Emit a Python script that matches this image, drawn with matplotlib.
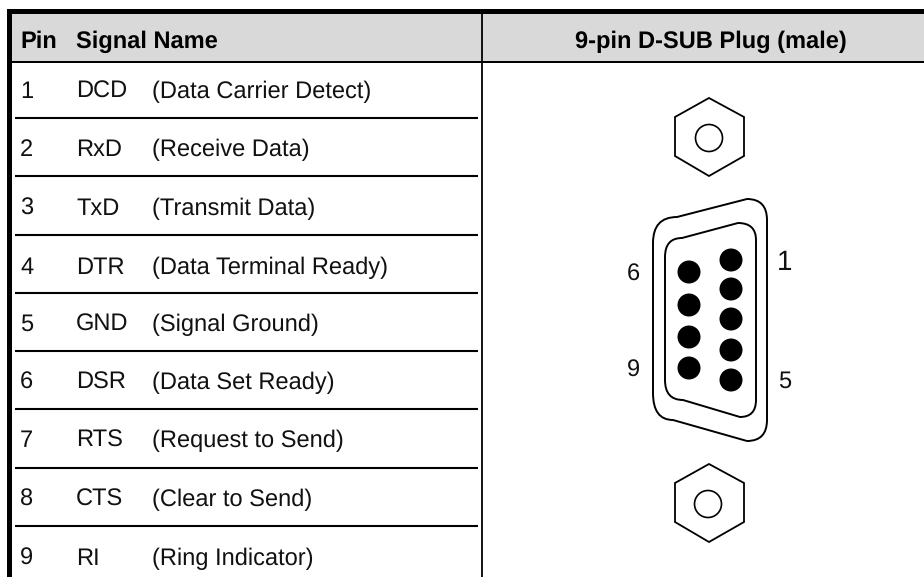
#import package
import matplotlib
matplotlib.use("Agg")
import matplotlib.pyplot as plt
from matplotlib.patches import Circle, PathPatch, Polygon, Rectangle
from matplotlib.path import Path

plt.rcParams['font.family'] = ['Liberation Sans', 'DejaVu Sans']
plt.rcParams['text.hinting'] = 'no_hinting'

#table contents
pins = ["1", "2", "3", "4", "5", "6", "7", "8", "9"]
signals = ["DCD", "RxD", "TxD", "DTR", "GND", "DSR", "RTS", "CTS", "RI"]
names = ["(Data Carrier Detect)", "(Receive Data)", "(Transmit Data)", "(Data Terminal Ready)",
         "(Signal Ground)", "(Data Set Ready)", "(Request to Send)", "(Clear to Send)", "(Ring Indicator)"]
row_baseline_y = [98, 156, 215, 274, 331, 389, 447, 506, 565]
row_line_y = [118, 176, 235, 293, 351, 409, 468, 525.5]

#connector drawing in pixels
left_pins_y = [272, 305, 337, 368]
right_pins_y = [260, 289, 319, 350, 380]
left_pin_x = 689
right_pin_x = 731
nut_centers = [(709, 137), (709, 503)]
bore_centers = [(709, 138), (708, 504)]


def shell(x0, x1, tl, tr, bl, br):
    # rounded D outline, corners are quadratic curves
    verts = [(x0, tl[0]), (x0, tl[1]), (tl[2], tl[3]),
             (tr[0], tr[1]), (x1, tr[1]), (x1, tr[2]),
             (x1, br[2]), (x1, br[1]), (br[0], br[1]),
             (bl[2], bl[3]), (x0, bl[1]), (x0, bl[0]),
             (x0, tl[0])]
    codes = [Path.MOVETO, Path.CURVE3, Path.CURVE3,
             Path.LINETO, Path.CURVE3, Path.CURVE3,
             Path.LINETO, Path.CURVE3, Path.CURVE3,
             Path.LINETO, Path.CURVE3, Path.CURVE3,
             Path.LINETO]
    return PathPatch(Path(verts, codes), fill=False, ec="black", lw=1.4)


fig = plt.figure(figsize=(9.24, 5.77), dpi=100)
ax = fig.add_axes([0, 0, 1, 1])
ax.set_xlim(0, 924)
ax.set_ylim(577, 0)
ax.axis("off")

#header and frame
ax.add_patch(Rectangle((12, 14), 912, 47, fc="#d9d9d9", ec="none"))
ax.add_patch(Rectangle((7, 9), 917, 5, fc="black", ec="none"))
ax.add_patch(Rectangle((7, 9), 5, 568, fc="black", ec="none"))
ax.add_patch(Rectangle((12, 61), 912, 2, fc="black", ec="none"))
ax.plot([482, 482], [14, 577], color="black", lw=1.3, solid_capstyle="butt")

ax.text(20, 47.5, "Pin", fontsize=17, fontweight="bold", va="baseline")
ax.text(76, 47.5, "Signal Name", fontsize=17, fontweight="bold", va="baseline")
ax.text(711, 47.5, "9-pin D-SUB Plug (male)", fontsize=17, fontweight="bold", va="baseline", ha="center")

#rows
for y in row_line_y:
    ax.plot([15, 478], [y, y], color="black", lw=1.5, solid_capstyle="butt")
for pin, sig, name, y in zip(pins, signals, names, row_baseline_y):
    ax.text(20, y, pin, fontsize=17, va="baseline", color="#111111")
    ax.text(76, y, sig, fontsize=17, va="baseline", color="#111111")
    ax.text(152, y, name, fontsize=17, va="baseline", color="#111111")

#nuts
for (cx, cy), (bx, by) in zip(nut_centers, bore_centers):
    hexagon = [(cx, cy - 39), (cx + 35, cy - 20), (cx + 35, cy + 19),
               (cx, cy + 39), (cx - 34, cy + 19), (cx - 34, cy - 20)]
    ax.add_patch(Polygon(hexagon, closed=True, fill=False, ec="black", lw=1.3))
    ax.add_patch(Circle((bx, by), 13.5, fill=False, ec="black", lw=1.2))

#shell
ax.add_patch(shell(653, 767, (243, 217, 677, 217), (747, 199, 220),
                   (393, 420, 673, 420), (747, 441, 420)))
ax.add_patch(shell(665, 756, (257, 238, 682, 238), (738, 223, 240),
                   (380, 400, 683, 400), (740, 417, 400)))

#pins
for y in left_pins_y:
    ax.add_patch(Circle((left_pin_x, y), 11.5, fc="black", ec="none"))
for y in right_pins_y:
    ax.add_patch(Circle((right_pin_x, y), 11.5, fc="black", ec="none"))

ax.text(633, 281, "6", fontsize=17, ha="center", va="baseline", color="#111111")
ax.text(633, 377, "9", fontsize=17, ha="center", va="baseline", color="#111111")
ax.text(785, 270, "1", fontsize=20, ha="center", va="baseline", color="#111111")
ax.text(785, 388, "5", fontsize=17, ha="center", va="baseline", color="#111111")

fig.savefig("out.png", dpi=100)
